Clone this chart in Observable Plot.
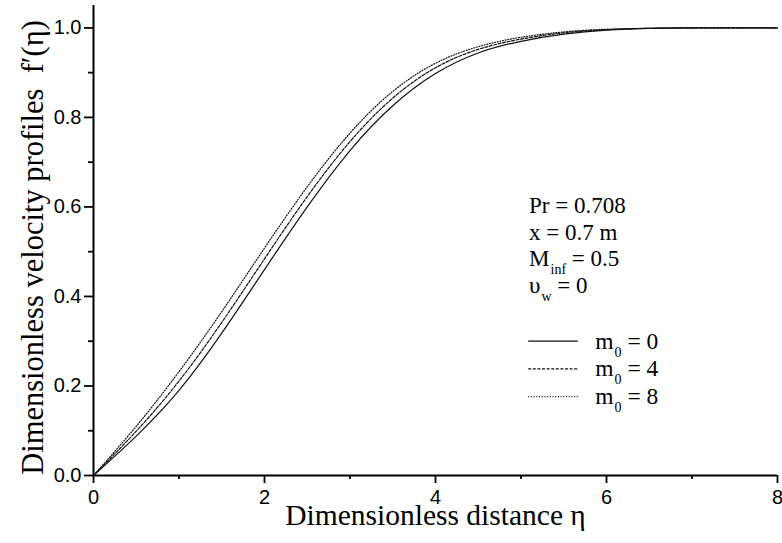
<!DOCTYPE html>
<html>
<head>
<meta charset="utf-8">
<script src="https://cdn.jsdelivr.net/npm/d3@7"></script>
<script src="https://cdn.jsdelivr.net/npm/@observablehq/plot@0.6"></script>
<style>
  html, body { margin: 0; padding: 0; background: #fff; }
  #chart { width: 782px; height: 543px; }
</style>
</head>
<body>
<div id="chart"></div>
<script>
// ---- data ----
const eta = [0, 0.5, 1.0, 1.5, 2.0, 2.5, 3.0, 3.5, 4.0, 4.5, 5.0, 5.5, 6.0, 6.5, 7.0, 8.0];
const fp_m0 = [0, 0.088, 0.190, 0.318, 0.460, 0.600, 0.726, 0.826, 0.898, 0.944, 0.970, 0.986, 0.995, 0.999, 1.0, 1.0];
const fp_m4 = [0, 0.099, 0.211, 0.342, 0.484, 0.623, 0.746, 0.843, 0.911, 0.952, 0.975, 0.989, 0.996, 0.999, 1.0, 1.0];
const fp_m8 = [0, 0.110, 0.232, 0.366, 0.508, 0.645, 0.765, 0.858, 0.921, 0.958, 0.979, 0.991, 0.997, 0.999, 1.0, 1.0];
const seriesSub = ["0", "0", "0"];
const seriesVal = [" = 0", " = 4", " = 8"];
const seriesDash = [null, "3,1.6", "1,1.7"];
const xTicks = [0, 2, 4, 6, 8];
const xMinor = [1, 3, 5, 7];
const yTicks = [0, 0.2, 0.4, 0.6, 0.8, 1.0];
const yMinor = [0.1, 0.3, 0.5, 0.7, 0.9];
const xLabel = "Dimensionless distance η";
const yLabel = "Dimensionless velocity profiles  f′(η)";
// annotation lines: [main, subscript, rest]
const notes = [["Pr = 0.708", "", ""], ["x = 0.7 m", "", ""], ["M", "inf", " = 0.5"], ["υ", "w", " = 0"]];

const allSeries = [fp_m0, fp_m4, fp_m8];
const rows = [];
allSeries.forEach((vals, s) => vals.forEach((v, i) => rows.push({eta: eta[i], f: v, s})));

const serif = "Liberation Serif, Times New Roman, serif";
const sans = "Liberation Sans, Arial, sans-serif";

const plot = Plot.plot({
  width: 782,
  height: 543,
  marginLeft: 93,
  marginRight: 5,
  marginTop: 5,
  marginBottom: 68,
  style: {fontFamily: sans, fontSize: "20px", color: "#000", background: "#fff"},
  x: {domain: [0, 8]},
  y: {domain: [0, 1.05]},
  marks: [
    ...allSeries.map((_, s) => Plot.line(rows.filter(r => r.s === s), {
      x: "eta", y: "f", curve: "natural", stroke: "#111", strokeWidth: 1.2,
      strokeDasharray: seriesDash[s]
    })),
    Plot.axisY({ticks: yTicks, tickSize: 9, tickPadding: 3, tickFormat: d3.format(".1f"), label: null, fontSize: 20, strokeWidth: 1.8}),
    Plot.axisY({ticks: yMinor, tickSize: 5, text: null, label: null, strokeWidth: 1.8}),
    Plot.axisX({ticks: xTicks, tickSize: 8, tickPadding: 6, tickFormat: d3.format("d"), label: null, fontSize: 20, strokeWidth: 1.8}),
    Plot.axisX({ticks: xMinor, tickSize: 4, text: null, label: null, strokeWidth: 1.8}),
    Plot.ruleX([0], {y1: 0, y2: 1.05, strokeWidth: 2}),
    Plot.ruleY([0], {x1: 0, x2: 8, strokeWidth: 2}),
    Plot.text([xLabel], {frameAnchor: "bottom", dy: 49, fontSize: 29.5, fontFamily: serif, fill: "#000", textAnchor: "middle"}),
    Plot.text([yLabel], {frameAnchor: "left", rotate: -90, dx: -60, dy: 7, fontSize: 30.5, fontFamily: serif, fill: "#000", textAnchor: "middle"})
  ]
});

document.getElementById("chart").appendChild(plot);

// annotations and legend placed via Plot's scales
const sx = plot.scale("x"), sy = plot.scale("y");
const svg = d3.select(plot);
const g = svg.append("g").attr("font-family", serif).attr("fill", "#000").attr("text-anchor", "start");

const noteX = 5.10, noteY0 = 0.585, noteStep = 0.0595;
notes.forEach((n, i) => {
  const t = g.append("text")
    .attr("x", sx.apply(noteX))
    .attr("y", sy.apply(noteY0 - i * noteStep))
    .attr("font-size", 23);
  t.append("tspan").text(n[0]);
  if (n[1]) {
    t.append("tspan").attr("dy", 8).attr("font-size", 14).attr("dx", 1).text(n[1]);
    t.append("tspan").attr("dy", -8).text(n[2]);
  }
});

const legX1 = 5.09, legX2 = 5.67, legTX = 5.875, legY0 = 0.299, legStep = 0.062;
seriesVal.forEach((val, i) => {
  const yv = sy.apply(legY0 - i * legStep);
  g.append("line")
    .attr("x1", sx.apply(legX1)).attr("x2", sx.apply(legX2))
    .attr("y1", yv).attr("y2", yv)
    .attr("stroke", "#111").attr("stroke-width", 1.2)
    .attr("stroke-dasharray", seriesDash[i]);
  const t = g.append("text").attr("x", sx.apply(legTX)).attr("y", yv + 7.5).attr("font-size", 23.5);
  t.append("tspan").text("m");
  t.append("tspan").attr("dy", 8).attr("font-size", 14).attr("dx", 1).text(seriesSub[i]);
  t.append("tspan").attr("dy", -8).text(val);
});
</script>
</body>
</html>
